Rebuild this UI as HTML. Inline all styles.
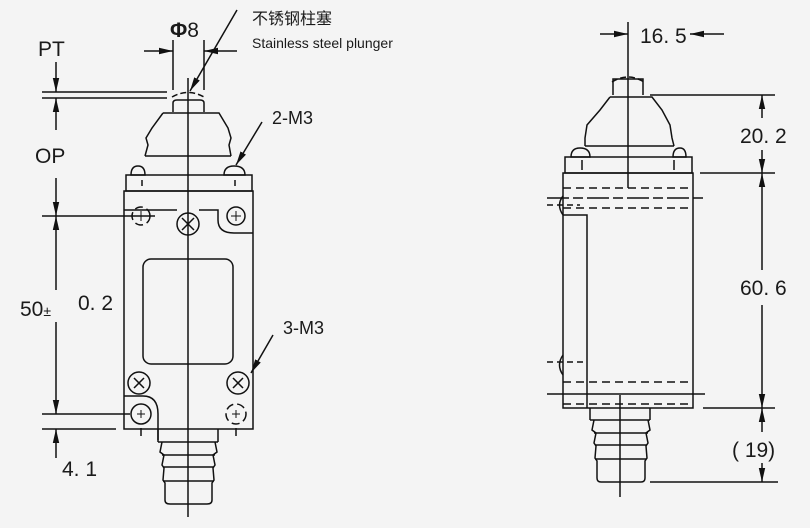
<!DOCTYPE html>
<html><head><meta charset="utf-8"><style>
html,body{margin:0;padding:0;background:#f4f4f4}
svg{display:block}
text{font-family:"Liberation Sans","Noto Sans CJK SC",sans-serif;fill:#1a1a1a}
</style></head><body>
<svg width="810" height="528" viewBox="0 0 810 528" xmlns="http://www.w3.org/2000/svg">
<defs>
<marker id="a" viewBox="0 0 10 10" refX="10" refY="5" markerWidth="14" markerHeight="8" orient="auto-start-reverse" markerUnits="userSpaceOnUse" preserveAspectRatio="none"><path d="M0,1 L10,5 L0,9z" fill="#111"/></marker>
</defs>
<rect width="810" height="528" fill="#f4f4f4"/>
<g stroke="#111" stroke-width="1.5" fill="none">
<line x1="56" y1="62" x2="56" y2="92" marker-end="url(#a)"/>
<line x1="56" y1="130" x2="56" y2="98" marker-end="url(#a)"/>
<line x1="56" y1="178" x2="56" y2="216" marker-end="url(#a)"/>
<line x1="56" y1="290" x2="56" y2="216" marker-end="url(#a)"/>
<line x1="56" y1="322" x2="56" y2="414" marker-end="url(#a)"/>
<line x1="56" y1="458" x2="56" y2="429" marker-end="url(#a)"/>
<line x1="42" y1="92" x2="167" y2="92"/>
<line x1="42" y1="98" x2="167" y2="98"/>
<line x1="42" y1="216" x2="155" y2="216"/>
<line x1="42" y1="414" x2="130" y2="414"/>
<line x1="42" y1="429" x2="116" y2="429"/>
<line x1="173" y1="40" x2="173" y2="90"/>
<line x1="204" y1="40" x2="204" y2="90"/>
<line x1="144" y1="51" x2="173" y2="51" marker-end="url(#a)"/>
<line x1="237" y1="51" x2="204" y2="51" marker-end="url(#a)"/>
<line x1="237" y1="10" x2="190" y2="91" marker-end="url(#a)"/>
<line x1="262" y1="122" x2="236" y2="165" marker-end="url(#a)"/>
<line x1="273" y1="335" x2="251" y2="373" marker-end="url(#a)"/>
<line x1="188" y1="78" x2="188" y2="517"/>
<path d="M173,112 V103 Q173,100 177,100 H200 Q204,100 204,103 V112"/>
<path d="M172,97 Q188,88 204,97" stroke-dasharray="6 3"/>
<path d="M163,113 H219 L228,128 L231,138 L229,145 L231,156 M163,113 L152,128 L146,138 L148,145 L145,156 M145,156 H231"/>
<path d="M131,175 Q131,166 138,166 Q145,166 145,175 Z"/>
<path d="M224,175 Q224,166 234,166 Q245,166 245,175 Z"/>
<line x1="142" y1="180" x2="142" y2="186"/><line x1="235" y1="180" x2="235" y2="186"/>
<rect x="126" y="175" width="126" height="16"/>
<rect x="124" y="191" width="129" height="238"/>
<path d="M124,210 H177 M199,210 H218 V220 Q218,233 234,233 H253"/>
<circle cx="141" cy="216" r="9" stroke-dasharray="8 4"/>
<path d="M136,216 H146 M141,211 V221" stroke-width="1"/>
<circle cx="236" cy="216" r="9"/>
<path d="M231,216 H241 M236,211 V221" stroke-width="1"/>
<circle cx="188" cy="224" r="11"/>
<path d="M182,218 L194,230 M194,218 L182,230"/>
<rect x="143" y="259" width="90" height="105" rx="8"/>
<circle cx="139" cy="383" r="11"/><path d="M134,378 L144,388 M144,378 L134,388"/>
<circle cx="238" cy="383" r="11"/><path d="M233,378 L243,388 M243,378 L233,388"/>
<path d="M124,396 H143 Q158,396 158,414 V440"/>
<circle cx="141" cy="414" r="10"/><path d="M137,414 H145 M141,410 V418" stroke-width="1"/>
<circle cx="236" cy="414" r="10" stroke-dasharray="8 4"/><path d="M232,414 H240 M236,410 V418" stroke-width="1"/>
<line x1="141" y1="428" x2="141" y2="436"/><line x1="236" y1="428" x2="236" y2="436"/>
<path d="M158,429 V442 M218,429 V442 M158,442 H218"/>
<path d="M162,442 L160,452 L164,455 L162,465 L164,468 L163,480 L165,483 L165,500 Q165,504 170,504 H207 Q212,504 212,500 L212,483 L214,480 L213,468 L215,465 L213,455 L217,452 L215,442"/>
<path d="M162,455 H215 M163,467 H214 M163,481 H214"/>
<line x1="628" y1="22" x2="628" y2="188"/>
<line x1="600" y1="34" x2="628" y2="34" marker-end="url(#a)"/>
<line x1="724" y1="34" x2="690" y2="34" marker-end="url(#a)"/>
<path d="M613,95 V79 H643 V95"/>
<path d="M612,82 Q628,72 644,82" stroke-dasharray="6 3"/>
<path d="M610,97 H652 L662,110 L670,125 L672,138 L674,146 M610,97 L600,110 L587,125 L585,138 L585,146"/>
<line x1="585" y1="146" x2="674" y2="146"/>
<path d="M571,157 Q571,148 580,148 Q590,148 590,157 Z"/>
<path d="M673,157 Q673,148 680,148 Q686,148 686,157 Z"/>
<line x1="582" y1="160" x2="582" y2="170"/><line x1="674" y1="160" x2="674" y2="170"/>
<rect x="565" y="157" width="127" height="16"/>
<rect x="563" y="173" width="130" height="235"/>
<line x1="563" y1="188" x2="693" y2="188" stroke-dasharray="8 5"/>
<line x1="547" y1="198" x2="705" y2="198" stroke-dasharray="22 4 10 4"/>
<line x1="547" y1="205" x2="580" y2="205" stroke-dasharray="6 4"/>
<line x1="563" y1="208" x2="693" y2="208" stroke-dasharray="8 5"/>
<path d="M563,196 Q556,205 563,215"/>
<path d="M563,215 H587 V408"/>
<path d="M563,355 Q556,365 563,375"/>
<line x1="547" y1="362" x2="585" y2="362" stroke-dasharray="6 4"/>
<line x1="563" y1="382" x2="693" y2="382" stroke-dasharray="8 5"/>
<line x1="547" y1="394" x2="705" y2="394"/>
<line x1="563" y1="404" x2="693" y2="404" stroke-dasharray="8 5"/>
<line x1="650" y1="95" x2="775" y2="95"/>
<line x1="700" y1="173" x2="775" y2="173"/>
<line x1="703" y1="408" x2="775" y2="408"/>
<line x1="650" y1="482" x2="778" y2="482"/>
<line x1="762" y1="118" x2="762" y2="95" marker-end="url(#a)"/>
<line x1="762" y1="150" x2="762" y2="173" marker-end="url(#a)"/>
<line x1="762" y1="270" x2="762" y2="173" marker-end="url(#a)"/>
<line x1="762" y1="305" x2="762" y2="408" marker-end="url(#a)"/>
<line x1="762" y1="432" x2="762" y2="408" marker-end="url(#a)"/>
<line x1="762" y1="463" x2="762" y2="482" marker-end="url(#a)"/>
<line x1="620" y1="395" x2="620" y2="497"/>
<path d="M590,408 V420 M650,408 V420 M590,420 H650"/>
<path d="M594,420 L592,430 L596,433 L594,443 L596,446 L595,458 L597,461 L597,478 Q597,482 601,482 H641 Q645,482 645,478 L645,461 L647,458 L646,446 L648,443 L646,433 L650,430 L648,420"/>
<path d="M594,433 H648 M595,445 H647 M595,459 H646"/>
</g>
<g font-size="21">
<text x="38" y="56">PT</text>
<text x="35" y="163">OP</text>
<text x="20" y="316">50<tspan font-size="14">±</tspan></text>
<text x="78" y="310">0. 2</text>
<text x="62" y="476">4. 1</text>
<text x="170" y="37" font-weight="bold">Φ<tspan font-weight="normal">8</tspan></text>
<text x="272" y="124" font-size="18">2-M3</text>
<text x="283" y="334" font-size="18">3-M3</text>
<text x="640" y="43">16. 5</text>
<text x="740" y="143">20. 2</text>
<text x="740" y="295">60. 6</text>
<text x="732" y="457">( 19)</text>
</g>
<text x="252" y="24" font-size="16">不锈钢柱塞</text>
<text x="252" y="48" font-size="14">Stainless steel plunger</text>
</svg>
</body></html>
